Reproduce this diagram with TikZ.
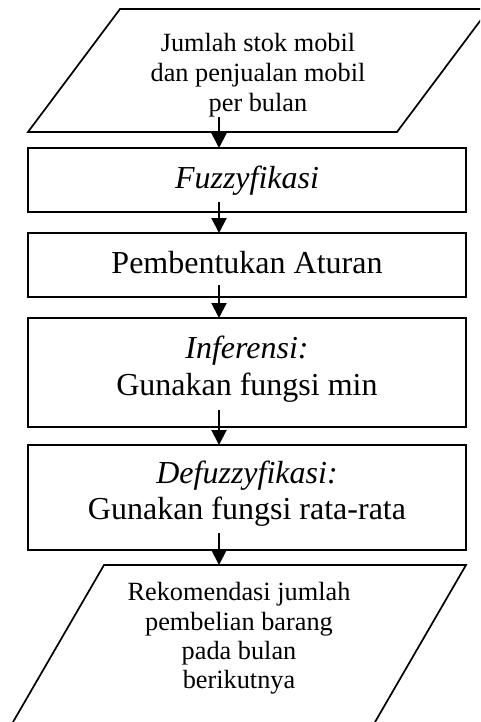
\documentclass[tikz,border=0pt]{standalone}
\usepackage{fontspec}
\setmainfont{Liberation Serif}
\usetikzlibrary{arrows.meta}
\tikzset{
  procbox/.style={draw, line width=2pt, rectangle, minimum width=438pt, inner sep=0pt, outer sep=0pt},
  iobox/.style={draw, line width=1.7pt, line join=miter},
  boxtext/.style={anchor=base, align=center, inner sep=0pt, font=\fontsize{32}{37}\selectfont},
  iotext/.style={anchor=base, align=center, inner sep=0pt, font=\fontsize{26.3}{30}\selectfont},
  flow/.style={line width=2pt, -{Triangle[length=15pt,width=15pt]}}
}
\begin{document}
\begin{tikzpicture}[x=1pt,y=-1pt]
\useasboundingbox (0,0) rectangle (480,722);
\clip (0,0) rectangle (480,722);
% input parallelogram
\draw[iobox] (120,9) -- (489,9) -- (397,132) -- (28,132) -- cycle;
\node[iotext] (in) at (258,112) {Jumlah stok mobil\\dan penjualan mobil\\per bulan};
% process boxes
\node[procbox, minimum height=64pt] (b1) at (247,180) {};
\node[boxtext] (t1) at (247,188) {\textit{Fuzzyfikasi}};
\node[procbox, minimum height=64pt] (b2) at (247,265) {};
\node[boxtext] (t2) at (247,273) {Pembentukan Aturan};
\node[procbox, minimum height=109pt] (b3) at (247,372.5) {};
\node[boxtext] (t3) at (247,395) {\textit{Inferensi:}\\Gunakan fungsi min};
\node[procbox, minimum height=105pt] (b4) at (247,497.5) {};
\node[boxtext] (t4) at (247,519) {\textit{Defuzzyfikasi:}\\[-1pt]Gunakan fungsi rata-rata};
% output parallelogram
\draw[iobox] (104,565) -- (466,565) -- (370.4,730) -- (8.4,730) -- cycle;
\coordinate (outtop) at (219,565);
\node[iotext] (out) at (239,688) {Rekomendasi jumlah\\[-0.5pt]pembelian barang\\[-0.5pt]pada bulan\\[-1.5pt]berikutnya};
% arrow start points
\coordinate (s0) at (219,117);
\coordinate (s1) at (219,202);
\coordinate (s2) at (219,285);
\coordinate (s3) at (219,410);
\coordinate (s4) at (219,533);
\draw[flow] (s0) -- (s0 |- b1.north);
\draw[flow] (s1) -- (s1 |- b2.north);
\draw[flow] (s2) -- (s2 |- b3.north);
\draw[flow] (s3) -- (s3 |- b4.north);
\draw[flow] (s4) -- (outtop);
\end{tikzpicture}
\end{document}
